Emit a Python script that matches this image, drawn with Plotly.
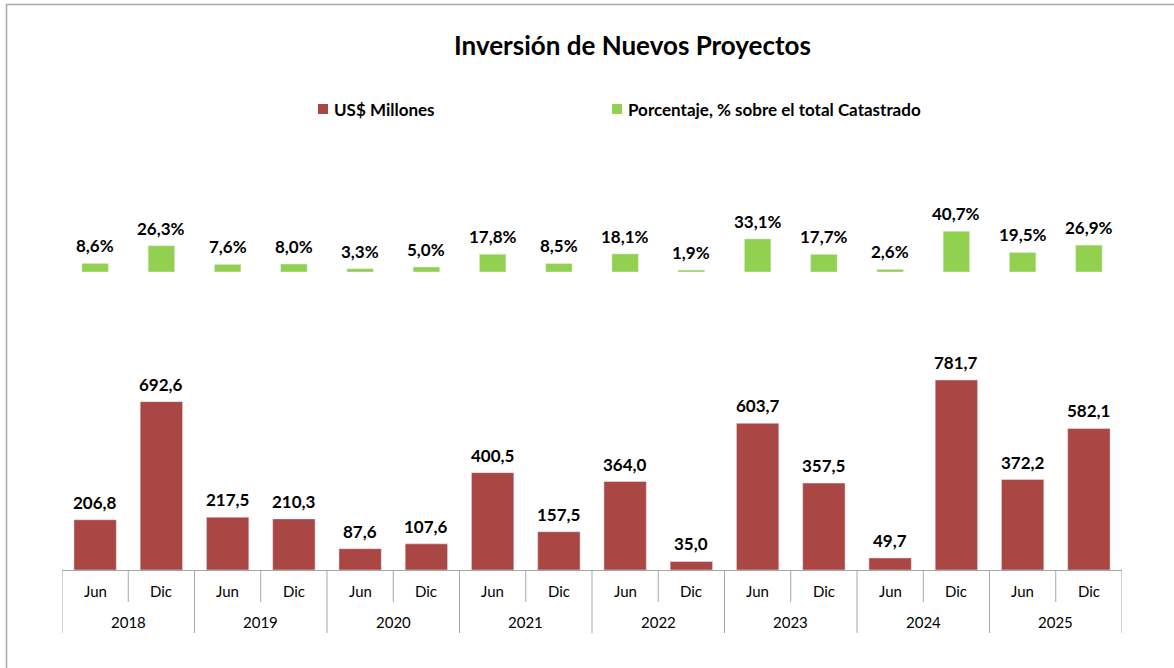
import plotly.graph_objects as go

# ---- data ----
years = ["2018", "2019", "2020", "2021", "2022", "2023", "2024", "2025"]
months = ["Jun", "Dic"]
usd_millones = [206.8, 692.6, 217.5, 210.3, 87.6, 107.6, 400.5, 157.5,
                364.0, 35.0, 603.7, 357.5, 49.7, 781.7, 372.2, 582.1]
porcentaje = [8.6, 26.3, 7.6, 8.0, 3.3, 5.0, 17.8, 8.5,
              18.1, 1.9, 33.1, 17.7, 2.6, 40.7, 19.5, 26.9]

# ---- layout constants (pixels) ----
W, H = 1174, 668
L, R = 62, 1122
FONT = "Lato"
RED = "#AA4744"
GREEN = "#92D050"
GRAY = "#A6A6A6"


def py(p):
    return 1 - p / H


def px(p):
    return (p - L) / (R - L)


def fmt(v):
    return f"{v:.1f}".replace(".", ",")


n = len(usd_millones)
xs = list(range(n))
month_labels = [months[i % 2] for i in xs]

fig = go.Figure()
fig.add_trace(go.Bar(
    x=xs, y=usd_millones, name="US$ Millones", width=0.64,
    marker=dict(color=RED), hovertemplate="%{y:.1f}<extra></extra>",
    xaxis="x", yaxis="y", showlegend=False))
fig.add_trace(go.Bar(
    x=xs, y=porcentaje, name="Porcentaje, % sobre el total Catastrado", width=0.4,
    marker=dict(color=GREEN), hovertemplate="%{y:.1f}%<extra></extra>",
    xaxis="x", yaxis="y2", showlegend=False))

# y domains from pixel positions
base1, top1 = 570, 570 - 800 * 0.2431
base2, top2 = 272, 272 - 45 * 1.0

annotations = []
shapes = []
# data labels
lab_font = dict(family=FONT, size=17, color="black", weight="bold")
for i, v in zip(xs, usd_millones):
    annotations.append(dict(x=i, y=v, xref="x", yref="y", text=fmt(v), showarrow=False,
                            xanchor="center", yanchor="bottom", yshift=5, font=lab_font))
for i, v in zip(xs, porcentaje):
    annotations.append(dict(x=i, y=v, xref="x", yref="y2", text=fmt(v) + "%", showarrow=False,
                            xanchor="center", yanchor="bottom", yshift=5, font=lab_font))
# month labels
for i in xs:
    annotations.append(dict(x=i, y=py(591), xref="x", yref="paper", text=month_labels[i],
                            yanchor="middle", xanchor="center",
                            showarrow=False, font=dict(family=FONT, size=15, color="black")))
# year labels
for k, yr in enumerate(years):
    annotations.append(dict(x=2 * k + 0.5, y=py(622), xref="x", yref="paper", text=yr,
                            yanchor="middle", xanchor="center",
                            showarrow=False, font=dict(family=FONT, size=15, color="black")))
# dividers
for b in range(n + 1):
    bottom = 633 if b % 2 == 0 else 602
    shapes.append(dict(type="line", xref="x", yref="paper", x0=b - 0.5, x1=b - 0.5,
                       y0=py(570), y1=py(bottom), line=dict(color=GRAY, width=1)))

# legend (manual)
leg = [(318, RED, "US$ Millones"), (612, GREEN, "Porcentaje, % sobre el total Catastrado")]
for xp, col, txt in leg:
    shapes.append(dict(type="rect", xref="paper", yref="paper",
                       x0=px(xp), x1=px(xp + 10), y0=py(104), y1=py(114),
                       fillcolor=col, line=dict(width=0)))
    annotations.append(dict(x=px(xp + 14), y=py(109), xref="paper", yref="paper", text=txt,
                            xanchor="left", yanchor="middle", showarrow=False,
                            font=dict(family=FONT, size=17, color="black", weight="bold")))

# title
annotations.append(dict(x=px(632), y=py(45), xref="paper", yref="paper",
                        text="Inversión de Nuevos Proyectos", showarrow=False,
                        xanchor="center", yanchor="middle",
                        font=dict(family=FONT, size=26, color="black", weight="bold")))

# frame
shapes.append(dict(type="line", xref="paper", yref="paper", x0=px(6), x1=px(1180),
                   y0=py(4.5), y1=py(4.5), line=dict(color=GRAY, width=1.5)))
shapes.append(dict(type="line", xref="paper", yref="paper", x0=px(6.5), x1=px(6.5),
                   y0=py(4), y1=py(680), line=dict(color=GRAY, width=1.5)))

fig.update_layout(
    width=W, height=H,
    margin=dict(l=L, r=W - R, t=0, b=0),
    paper_bgcolor="white", plot_bgcolor="white",
    separators=",.",
    barmode="overlay",
    xaxis=dict(range=[-0.5, n - 0.5], showticklabels=False, ticks="", showgrid=False,
               zeroline=False, showline=True, linecolor=GRAY, linewidth=1,
               anchor="y", fixedrange=True),
    yaxis=dict(domain=[py(base1), py(top1)], range=[0, 800], visible=False),
    yaxis2=dict(domain=[py(base2), py(top2)], range=[0, 45], visible=False, anchor="x"),
    annotations=annotations, shapes=shapes,
    font=dict(family=FONT),
)

fig.write_html("out.html", config={"displayModeBar": False},
               post_script="document.body.style.margin='0';")
